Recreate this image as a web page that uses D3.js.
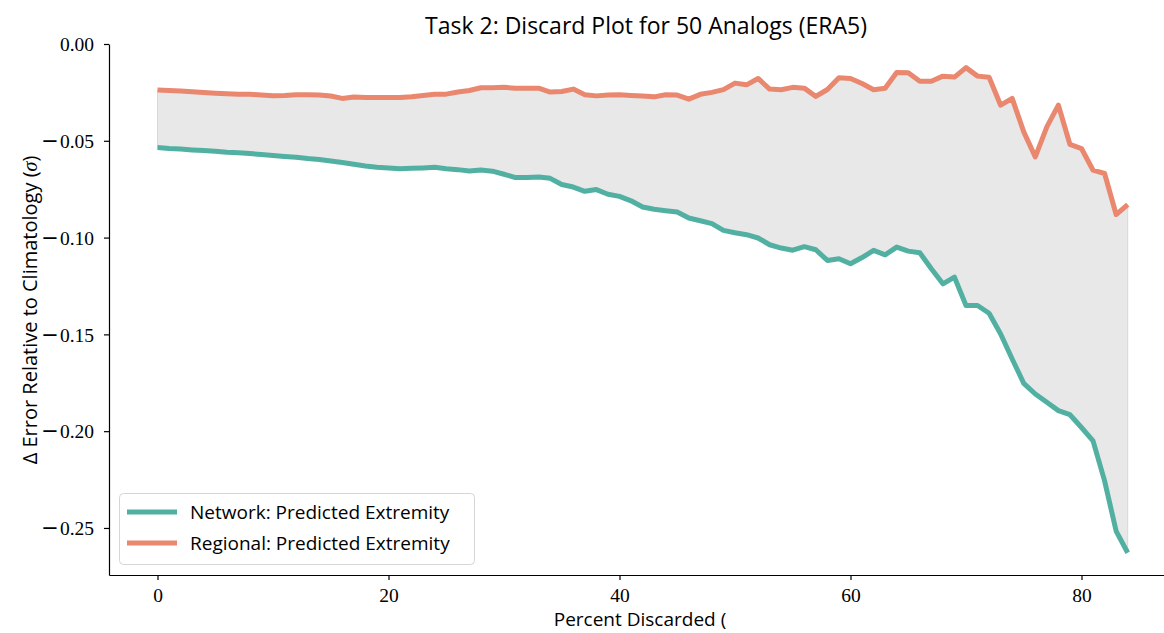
<!DOCTYPE html>
<html><head><meta charset="utf-8">
<script src="https://cdn.jsdelivr.net/npm/d3@7"></script>
<style>body{margin:0;background:#fff}svg{display:block}</style>
</head><body>
<svg id="chart" width="1164" height="633"></svg>
<script>
const percentDiscarded = d3.range(0, 85);
const network = [
-0.0535,-0.0540,-0.0543,-0.0547,-0.0550,-0.0554,-0.0559,-0.0562,-0.0566,-0.0571,
-0.0576,-0.0581,-0.0585,-0.0592,-0.0597,-0.0604,-0.0612,-0.0621,-0.0630,-0.0637,
-0.0640,-0.0644,-0.0642,-0.0640,-0.0637,-0.0644,-0.0649,-0.0656,-0.0651,-0.0657,
-0.0673,-0.0690,-0.0690,-0.0687,-0.0694,-0.0726,-0.0739,-0.0761,-0.0752,-0.0776,
-0.0787,-0.0810,-0.0842,-0.0854,-0.0861,-0.0868,-0.0899,-0.0913,-0.0928,-0.0963,
-0.0975,-0.0985,-0.1002,-0.1037,-0.1054,-0.1065,-0.1047,-0.1063,-0.1118,-0.1109,
-0.1135,-0.1103,-0.1066,-0.1089,-0.1049,-0.1070,-0.1078,-0.1161,-0.1239,-0.1204,
-0.1351,-0.1351,-0.1391,-0.1498,-0.1627,-0.1753,-0.1808,-0.1851,-0.1894,-0.1915,
-0.1981,-0.2050,-0.2257,-0.2516,-0.2628];
const regional = [
-0.0238,-0.0240,-0.0243,-0.0247,-0.0250,-0.0254,-0.0257,-0.0259,-0.0260,-0.0264,
-0.0267,-0.0266,-0.0262,-0.0262,-0.0264,-0.0269,-0.0281,-0.0274,-0.0276,-0.0276,
-0.0276,-0.0276,-0.0273,-0.0266,-0.0260,-0.0259,-0.0248,-0.0240,-0.0226,-0.0226,
-0.0224,-0.0228,-0.0229,-0.0228,-0.0248,-0.0245,-0.0233,-0.0262,-0.0268,-0.0264,
-0.0262,-0.0266,-0.0269,-0.0273,-0.0262,-0.0264,-0.0285,-0.0260,-0.0250,-0.0236,
-0.0202,-0.0211,-0.0178,-0.0233,-0.0236,-0.0224,-0.0228,-0.0271,-0.0235,-0.0174,
-0.0178,-0.0204,-0.0236,-0.0229,-0.0147,-0.0148,-0.0192,-0.0192,-0.0166,-0.0171,
-0.0122,-0.0166,-0.0172,-0.0316,-0.0281,-0.0454,-0.0583,-0.0428,-0.0316,-0.0519,
-0.0540,-0.0652,-0.0669,-0.0881,-0.0830];
const xTicks = [0, 20, 40, 60, 80];
const yTicks = [0, -0.05, -0.10, -0.15, -0.20, -0.25];
const seriesNames = ["Network: Predicted Extremity", "Regional: Predicted Extremity"];
const seriesColors = ["#52b0a2", "#e9876f"];

const svg = d3.select("#chart");
const x = d3.scaleLinear().domain([-4.2, 88.2]).range([109, 1176.2]);
const y = d3.scaleLinear().domain([-0.2743, 0]).range([575, 44]);
const serif = "'Liberation Serif','DejaVu Serif',serif";
const sans = "'Open Sans','DejaVu Sans',sans-serif";

const rows = percentDiscarded.map((p, i) => ({p, n: network[i], r: regional[i]}));

svg.append("path").datum(rows)
  .attr("d", d3.area().x(d => x(d.p)).y0(d => y(d.n)).y1(d => y(d.r)))
  .attr("fill", "#e8e8e8").attr("stroke", "#d8d8d8").attr("stroke-width", 1);

[network, regional].forEach((vals, k) => {
  svg.append("path").datum(vals)
    .attr("d", d3.line().x((d, i) => x(percentDiscarded[i])).y(d => y(d)))
    .attr("fill", "none").attr("stroke", seriesColors[k])
    .attr("stroke-width", 5).attr("stroke-linejoin", "round").attr("stroke-linecap", "butt");
});

// axes
const gx = svg.append("g").attr("transform", "translate(0,575)")
  .call(d3.axisBottom(x).tickValues(xTicks).tickSize(5).tickSizeOuter(0).tickPadding(8).tickFormat(d3.format("d")));
const gy = svg.append("g").attr("transform", "translate(109,0)")
  .call(d3.axisLeft(y).tickValues(yTicks).tickSize(5).tickSizeOuter(0).tickPadding(10).tickFormat(() => ""));
[gx, gy].forEach(g => {
  g.select(".domain").attr("stroke", "#000").attr("stroke-width", 1.2);
  g.selectAll(".tick line").attr("stroke", "#000").attr("stroke-width", 1.2);
  g.selectAll(".tick text").attr("font-family", serif).attr("font-size", 19.5).attr("fill", "#000");
});
gy.selectAll(".tick text").attr("dy", "0.35em").each(function(d) {
  const t = d3.select(this);
  if (d < 0) {
    t.append("tspan").attr("font-family", "'DejaVu Sans',sans-serif").attr("font-size", 21).text("\u2212");
    t.append("tspan").attr("dx", 1).text(d3.format(".2f")(Math.abs(d)));
  } else {
    t.append("tspan").text(d3.format(".2f")(d));
  }
});

// title and labels
svg.append("text").attr("x", 646).attr("y", 34).attr("text-anchor", "middle")
  .attr("font-family", sans).attr("font-size", 23).text("Task 2: Discard Plot for 50 Analogs (ERA5)");
svg.append("text").attr("x", 640).attr("y", 626).attr("text-anchor", "middle")
  .attr("font-family", sans).attr("font-size", 19).text("Percent Discarded (");
const yl = svg.append("text").attr("transform", "translate(37,310) rotate(-90)").attr("text-anchor", "middle")
  .attr("font-family", sans).attr("font-size", 20);
yl.append("tspan").text("\u0394 Error Relative to Climatology (");
yl.append("tspan").attr("font-family", serif).attr("font-style", "italic").text("\u03c3");
yl.append("tspan").text(")");

// legend
const lg = svg.append("g");
lg.append("rect").attr("x", 119.5).attr("y", 493.5).attr("width", 355).attr("height", 71).attr("rx", 4)
  .attr("fill", "#fff").attr("fill-opacity", 0.8).attr("stroke", "#d5d5d5");
seriesNames.forEach((name, k) => {
  const yy = 512 + k * 31;
  lg.append("line").attr("x1", 127).attr("x2", 177).attr("y1", yy).attr("y2", yy)
    .attr("stroke", seriesColors[k]).attr("stroke-width", 5);
  lg.append("text").attr("x", 190).attr("y", yy).attr("dy", "0.35em")
    .attr("font-family", sans).attr("font-size", 19).text(name);
});
</script>
</body></html>
